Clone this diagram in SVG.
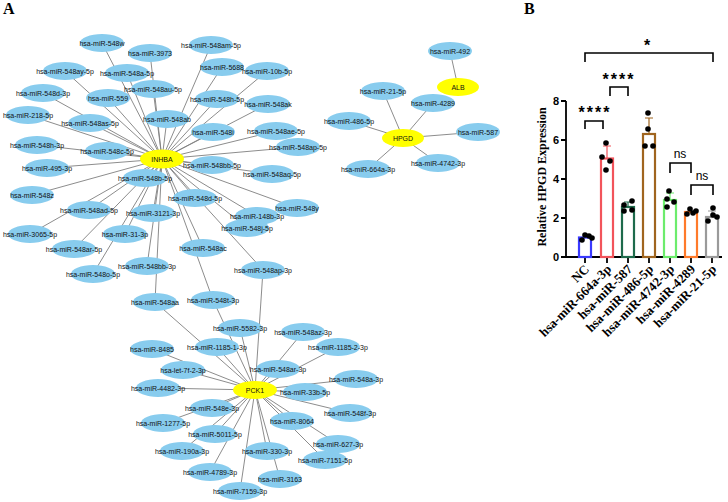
<svg xmlns="http://www.w3.org/2000/svg" width="728" height="502" viewBox="0 0 728 502">
<style>
.e{stroke:#7f7f7f;stroke-width:0.9;fill:none}
.m{fill:#88ccee}
.h{fill:#ffff00}
.t{font-family:"Liberation Sans",Arial,sans-serif;font-size:7px;fill:#111;text-anchor:middle}
.pl{font-family:"Liberation Serif","Times New Roman",serif;font-weight:bold;font-size:16px;fill:#000}
.ax{stroke:#000;stroke-width:1.8;fill:none}
.yl{font-family:"Liberation Sans",Arial,sans-serif;font-weight:bold;font-size:11px;text-anchor:end}
.xl{font-family:"Liberation Serif","Times New Roman",serif;font-weight:bold;font-size:13px;text-anchor:end}
.bar{fill:#fff;stroke-width:2.2}
.dot{fill:#000}
.br{stroke:#000;stroke-width:1.6;fill:none}
.st{font-family:"Liberation Sans",Arial,sans-serif;font-weight:bold;font-size:16px;text-anchor:middle;letter-spacing:2px}
.ns{font-family:"Liberation Sans",Arial,sans-serif;font-size:12px;text-anchor:middle}
</style>
<rect width="728" height="502" fill="#fff"/>
<text class="pl" x="3" y="14">A</text>
<text class="pl" x="524" y="14">B</text>

<g id="network" opacity="0.995">
<g id="edges">
<path class="e" d="M162 159L102 43M162 159L150 53M162 159L65 71M162 159L127 73M162 159L153 89M162 159L43 93M162 159L108 98M162 159L28 115M162 159L90 123M162 159L167 119M162 159L37 145M162 159L107 151M162 159L47 168M162 159L211 45M162 159L222 67M162 159L267 71M162 159L217 99M162 159L268 104M162 159L213 132M162 159L276 131M162 159L298 147M162 159L212 165M162 159L145 178M162 159L32 195M162 159L89 210M162 159L153 213M162 159L30 234M162 159L125 234M162 159L74 249M162 159L147 266M162 159L93 274M162 159L155 302M162 159L272 174M162 159L195 198M162 159L297 208M162 159L257 216M162 159L247 228M162 159L203 248M162 159L263 270M162 159L213 300"/>
<path class="e" d="M403 138L383 91M403 138L433 103M403 138L349 121M403 138L478 132M403 138L368 169M403 138L438 163M458 87L450 51"/>
<path class="e" d="M255 390L155 302M255 390L213 300M255 390L263 270M255 390L240 328M255 390L152 349M255 390L217 347M255 390L183 370M255 390L158 388M255 390L212 408M255 390L163 423M255 390L215 434M255 390L182 451M255 390L267 451M255 390L210 472M255 390L240 491M255 390L303 332M255 390L338 347M255 390L278 369M255 390L356 379M255 390L305 392M255 390L350 413M255 390L292 421M255 390L338 444M255 390L325 460M255 390L280 479"/>
</g>

<g id="n-548w"><ellipse class="m" cx="102" cy="43" rx="22" ry="9"/><text class="t" x="102" y="45.5">hsa-miR-548w</text></g>
<g id="n-3973"><ellipse class="m" cx="150" cy="53" rx="22" ry="9"/><text class="t" x="150" y="55.5">hsa-miR-3973</text></g>
<g id="n-548ay-5p"><ellipse class="m" cx="65" cy="71" rx="22" ry="9"/><text class="t" x="65" y="73.5">hsa-miR-548ay-5p</text></g>
<g id="n-548a-5p"><ellipse class="m" cx="127" cy="73" rx="22" ry="9"/><text class="t" x="127" y="75.5">hsa-miR-548a-5p</text></g>
<g id="n-548au-5p"><ellipse class="m" cx="153" cy="89" rx="22" ry="9"/><text class="t" x="153" y="91.5">hsa-miR-548au-5p</text></g>
<g id="n-548d-3p"><ellipse class="m" cx="43" cy="93" rx="22" ry="9"/><text class="t" x="43" y="95.5">hsa-miR-548d-3p</text></g>
<g id="n-559"><ellipse class="m" cx="108" cy="98" rx="22" ry="9"/><text class="t" x="108" y="100.5">hsa-miR-559</text></g>
<g id="n-218-5p"><ellipse class="m" cx="28" cy="115" rx="22" ry="9"/><text class="t" x="28" y="117.5">hsa-miR-218-5p</text></g>
<g id="n-548as-5p"><ellipse class="m" cx="90" cy="123" rx="22" ry="9"/><text class="t" x="90" y="125.5">hsa-miR-548as-5p</text></g>
<g id="n-548ab"><ellipse class="m" cx="167" cy="119" rx="22" ry="9"/><text class="t" x="167" y="121.5">hsa-miR-548ab</text></g>
<g id="n-548h-3p"><ellipse class="m" cx="37" cy="145" rx="22" ry="9"/><text class="t" x="37" y="147.5">hsa-miR-548h-3p</text></g>
<g id="n-548c-5p"><ellipse class="m" cx="107" cy="151" rx="22" ry="9"/><text class="t" x="107" y="153.5">hsa-miR-548c-5p</text></g>
<g id="n-495-3p"><ellipse class="m" cx="47" cy="168" rx="22" ry="9"/><text class="t" x="47" y="170.5">hsa-miR-495-3p</text></g>
<g id="n-548am-5p"><ellipse class="m" cx="211" cy="45" rx="22" ry="9"/><text class="t" x="211" y="47.5">hsa-miR-548am-5p</text></g>
<g id="n-5688"><ellipse class="m" cx="222" cy="67" rx="22" ry="9"/><text class="t" x="222" y="69.5">hsa-miR-5688</text></g>
<g id="n-10b-5p"><ellipse class="m" cx="267" cy="71" rx="22" ry="9"/><text class="t" x="267" y="73.5">hsa-miR-10b-5p</text></g>
<g id="n-548h-5p"><ellipse class="m" cx="217" cy="99" rx="22" ry="9"/><text class="t" x="217" y="101.5">hsa-miR-548h-5p</text></g>
<g id="n-548ak"><ellipse class="m" cx="268" cy="104" rx="22" ry="9"/><text class="t" x="268" y="106.5">hsa-miR-548ak</text></g>
<g id="n-548i"><ellipse class="m" cx="213" cy="132" rx="22" ry="9"/><text class="t" x="213" y="134.5">hsa-miR-548i</text></g>
<g id="n-548ae-5p"><ellipse class="m" cx="276" cy="131" rx="22" ry="9"/><text class="t" x="276" y="133.5">hsa-miR-548ae-5p</text></g>
<g id="n-548ap-5p"><ellipse class="m" cx="298" cy="147" rx="22" ry="9"/><text class="t" x="298" y="149.5">hsa-miR-548ap-5p</text></g>
<g id="n-548bb-5p"><ellipse class="m" cx="212" cy="165" rx="22" ry="9"/><text class="t" x="212" y="167.5">hsa-miR-548bb-5p</text></g>
<g id="n-548b-5p"><ellipse class="m" cx="145" cy="178" rx="22" ry="9"/><text class="t" x="145" y="180.5">hsa-miR-548b-5p</text></g>
<g id="n-548z"><ellipse class="m" cx="32" cy="195" rx="22" ry="9"/><text class="t" x="32" y="197.5">hsa-miR-548z</text></g>
<g id="n-548ad-5p"><ellipse class="m" cx="89" cy="210" rx="22" ry="9"/><text class="t" x="89" y="212.5">hsa-miR-548ad-5p</text></g>
<g id="n-3121-3p"><ellipse class="m" cx="153" cy="213" rx="22" ry="9"/><text class="t" x="153" y="215.5">hsa-miR-3121-3p</text></g>
<g id="n-3065-5p"><ellipse class="m" cx="30" cy="234" rx="22" ry="9"/><text class="t" x="30" y="236.5">hsa-miR-3065-5p</text></g>
<g id="n-31-3p"><ellipse class="m" cx="125" cy="234" rx="22" ry="9"/><text class="t" x="125" y="236.5">hsa-miR-31-3p</text></g>
<g id="n-548ar-5p"><ellipse class="m" cx="74" cy="249" rx="22" ry="9"/><text class="t" x="74" y="251.5">hsa-miR-548ar-5p</text></g>
<g id="n-548bb-3p"><ellipse class="m" cx="147" cy="266" rx="22" ry="9"/><text class="t" x="147" y="268.5">hsa-miR-548bb-3p</text></g>
<g id="n-548o-5p"><ellipse class="m" cx="93" cy="274" rx="22" ry="9"/><text class="t" x="93" y="276.5">hsa-miR-548o-5p</text></g>
<g id="n-548aa"><ellipse class="m" cx="155" cy="302" rx="22" ry="9"/><text class="t" x="155" y="304.5">hsa-miR-548aa</text></g>
<g id="n-548aq-5p"><ellipse class="m" cx="272" cy="174" rx="22" ry="9"/><text class="t" x="272" y="176.5">hsa-miR-548aq-5p</text></g>
<g id="n-548d-5p"><ellipse class="m" cx="195" cy="198" rx="22" ry="9"/><text class="t" x="195" y="200.5">hsa-miR-548d-5p</text></g>
<g id="n-548y"><ellipse class="m" cx="297" cy="208" rx="22" ry="9"/><text class="t" x="297" y="210.5">hsa-miR-548y</text></g>
<g id="n-148b-3p"><ellipse class="m" cx="257" cy="216" rx="22" ry="9"/><text class="t" x="257" y="218.5">hsa-miR-148b-3p</text></g>
<g id="n-548j-5p"><ellipse class="m" cx="247" cy="228" rx="22" ry="9"/><text class="t" x="247" y="230.5">hsa-miR-548j-5p</text></g>
<g id="n-548ac"><ellipse class="m" cx="203" cy="248" rx="22" ry="9"/><text class="t" x="203" y="250.5">hsa-miR-548ac</text></g>
<g id="n-548ap-3p"><ellipse class="m" cx="263" cy="270" rx="22" ry="9"/><text class="t" x="263" y="272.5">hsa-miR-548ap-3p</text></g>
<g id="n-548t-3p"><ellipse class="m" cx="213" cy="300" rx="22" ry="9"/><text class="t" x="213" y="302.5">hsa-miR-548t-3p</text></g>

<g id="n-492"><ellipse class="m" cx="450" cy="51" rx="22" ry="9"/><text class="t" x="450" y="53.5">hsa-miR-492</text></g>
<g id="n-21-5p"><ellipse class="m" cx="383" cy="91" rx="22" ry="9"/><text class="t" x="383" y="93.5">hsa-miR-21-5p</text></g>
<g id="n-4289"><ellipse class="m" cx="433" cy="103" rx="22" ry="9"/><text class="t" x="433" y="105.5">hsa-miR-4289</text></g>
<g id="n-486-5p"><ellipse class="m" cx="349" cy="121" rx="22" ry="9"/><text class="t" x="349" y="123.5">hsa-miR-486-5p</text></g>
<g id="n-587"><ellipse class="m" cx="478" cy="132" rx="22" ry="9"/><text class="t" x="478" y="134.5">hsa-miR-587</text></g>
<g id="n-664a-3p"><ellipse class="m" cx="368" cy="169" rx="22" ry="9"/><text class="t" x="368" y="171.5">hsa-miR-664a-3p</text></g>
<g id="n-4742-3p"><ellipse class="m" cx="438" cy="163" rx="22" ry="9"/><text class="t" x="438" y="165.5">hsa-miR-4742-3p</text></g>

<g id="n-5582-3p"><ellipse class="m" cx="240" cy="328" rx="22" ry="9"/><text class="t" x="240" y="330.5">hsa-miR-5582-3p</text></g>
<g id="n-8485"><ellipse class="m" cx="152" cy="349" rx="22" ry="9"/><text class="t" x="152" y="351.5">hsa-miR-8485</text></g>
<g id="n-1185-1-3p"><ellipse class="m" cx="217" cy="347" rx="22" ry="9"/><text class="t" x="217" y="349.5">hsa-miR-1185-1-3p</text></g>
<g id="n-let-7f-2-3p"><ellipse class="m" cx="183" cy="370" rx="22" ry="9"/><text class="t" x="183" y="372.5">hsa-let-7f-2-3p</text></g>
<g id="n-4482-3p"><ellipse class="m" cx="158" cy="388" rx="22" ry="9"/><text class="t" x="158" y="390.5">hsa-miR-4482-3p</text></g>
<g id="n-548e-3p"><ellipse class="m" cx="212" cy="408" rx="22" ry="9"/><text class="t" x="212" y="410.5">hsa-miR-548e-3p</text></g>
<g id="n-1277-5p"><ellipse class="m" cx="163" cy="423" rx="22" ry="9"/><text class="t" x="163" y="425.5">hsa-miR-1277-5p</text></g>
<g id="n-5011-5p"><ellipse class="m" cx="215" cy="434" rx="22" ry="9"/><text class="t" x="215" y="436.5">hsa-miR-5011-5p</text></g>
<g id="n-190a-3p"><ellipse class="m" cx="182" cy="451" rx="22" ry="9"/><text class="t" x="182" y="453.5">hsa-miR-190a-3p</text></g>
<g id="n-330-3p"><ellipse class="m" cx="267" cy="451" rx="22" ry="9"/><text class="t" x="267" y="453.5">hsa-miR-330-3p</text></g>
<g id="n-4789-3p"><ellipse class="m" cx="210" cy="472" rx="22" ry="9"/><text class="t" x="210" y="474.5">hsa-miR-4789-3p</text></g>
<g id="n-7159-3p"><ellipse class="m" cx="240" cy="491" rx="22" ry="9"/><text class="t" x="240" y="493.5">hsa-miR-7159-3p</text></g>
<g id="n-548az-3p"><ellipse class="m" cx="303" cy="332" rx="22" ry="9"/><text class="t" x="303" y="334.5">hsa-miR-548az-3p</text></g>
<g id="n-1185-2-3p"><ellipse class="m" cx="338" cy="347" rx="22" ry="9"/><text class="t" x="338" y="349.5">hsa-miR-1185-2-3p</text></g>
<g id="n-548ar-3p"><ellipse class="m" cx="278" cy="369" rx="22" ry="9"/><text class="t" x="278" y="371.5">hsa-miR-548ar-3p</text></g>
<g id="n-548a-3p"><ellipse class="m" cx="356" cy="379" rx="22" ry="9"/><text class="t" x="356" y="381.5">hsa-miR-548a-3p</text></g>
<g id="n-33b-5p"><ellipse class="m" cx="305" cy="392" rx="22" ry="9"/><text class="t" x="305" y="394.5">hsa-miR-33b-5p</text></g>
<g id="n-548f-3p"><ellipse class="m" cx="350" cy="413" rx="22" ry="9"/><text class="t" x="350" y="415.5">hsa-miR-548f-3p</text></g>
<g id="n-8064"><ellipse class="m" cx="292" cy="421" rx="22" ry="9"/><text class="t" x="292" y="423.5">hsa-miR-8064</text></g>
<g id="n-627-3p"><ellipse class="m" cx="338" cy="444" rx="22" ry="9"/><text class="t" x="338" y="446.5">hsa-miR-627-3p</text></g>
<g id="n-7151-5p"><ellipse class="m" cx="325" cy="460" rx="22" ry="9"/><text class="t" x="325" y="462.5">hsa-miR-7151-5p</text></g>
<g id="n-3163"><ellipse class="m" cx="280" cy="479" rx="22" ry="9"/><text class="t" x="280" y="481.5">hsa-miR-3163</text></g>

<g id="n-INHBA"><ellipse class="h" cx="162" cy="159" rx="22" ry="9.5"/><text class="t" x="162" y="161.5">INHBA</text></g>
<g id="n-HPGD"><ellipse class="h" cx="403" cy="138" rx="21" ry="9"/><text class="t" x="403" y="140.5">HPGD</text></g>
<g id="n-ALB"><ellipse class="h" cx="458" cy="87" rx="21" ry="9"/><text class="t" x="458" y="89.5">ALB</text></g>
<g id="n-PCK1"><ellipse class="h" cx="255" cy="390" rx="22" ry="9"/><text class="t" x="255" y="392.5">PCK1</text></g>
</g>

<g id="chart">
<text font-family="Liberation Serif,Times New Roman,serif" font-weight="bold" font-size="12" text-anchor="middle" transform="translate(546 177) rotate(-90)">Relative HPGD Expression</text>
<path class="ax" d="M566 101V257H722M561 101H566M561 140H566M561 179H566M561 218H566M561 257H566M585 257V263M607 257V263M628 257V263M649 257V263M670 257V263M691 257V263M712 257V263"/>
<text class="yl" x="559" y="105">8</text>
<text class="yl" x="559" y="144">6</text>
<text class="yl" x="559" y="183">4</text>
<text class="yl" x="559" y="222">2</text>
<text class="yl" x="559" y="261">0</text>

<rect class="bar" x="579" y="237.5" width="12" height="19.5" stroke="#3a3aff"/>
<rect class="bar" x="601" y="158.5" width="12" height="98.5" stroke="#f2545b"/>
<rect class="bar" x="622" y="207" width="12" height="50" stroke="#1e6b4c"/>
<rect class="bar" x="643" y="134" width="12" height="123" stroke="#a0651f"/>
<rect class="bar" x="664" y="200" width="12" height="57" stroke="#6cec6c"/>
<rect class="bar" x="685" y="212" width="12" height="45" stroke="#ff7a2a"/>
<rect class="bar" x="706" y="217" width="12" height="40" stroke="#9a9a9a"/>

<path stroke="#f2545b" stroke-width="1.2" d="M607 158V146M603 146H611"/>
<path stroke="#a0651f" stroke-width="1.2" d="M649 134V118M645 118H653"/>
<path stroke="#1e6b4c" stroke-width="1.2" d="M628 207V202M624 202H632"/>
<path stroke="#6cec6c" stroke-width="1.2" d="M670 200V193M666 193H674"/>
<path stroke="#9a9a9a" stroke-width="1.2" d="M712 217V211M708 211H716"/>

<g class="dot">
<circle cx="582" cy="240" r="2.8"/><circle cx="585" cy="235" r="2.8"/><circle cx="589" cy="236" r="2.8"/><circle cx="592" cy="238" r="2.8"/>
<circle cx="606" cy="143" r="2.8"/><circle cx="602" cy="157" r="2.8"/><circle cx="610" cy="161" r="2.8"/><circle cx="606" cy="170" r="2.8"/>
<circle cx="624" cy="205" r="2.8"/><circle cx="632" cy="201" r="2.8"/><circle cx="624" cy="211" r="2.8"/><circle cx="632" cy="210" r="2.8"/>
<circle cx="648" cy="113" r="2.8"/><circle cx="648" cy="129" r="2.8"/><circle cx="645" cy="146" r="2.8"/><circle cx="653" cy="146" r="2.8"/>
<circle cx="669" cy="191" r="2.8"/><circle cx="667" cy="199" r="2.8"/><circle cx="674" cy="202" r="2.8"/><circle cx="667" cy="207" r="2.8"/>
<circle cx="690" cy="209" r="2.8"/><circle cx="687" cy="214" r="2.8"/><circle cx="693" cy="213" r="2.8"/><circle cx="696" cy="211" r="2.8"/>
<circle cx="713" cy="208" r="2.8"/><circle cx="708" cy="221" r="2.8"/><circle cx="717" cy="217" r="2.8"/><circle cx="713" cy="215" r="2.8"/>
</g>

<path class="br" d="M585 62V53H713V62M610 96V87H628V96M585 129V121H603V129M670 173V163H691V173M691 195V185H713V195"/>
<text class="st" x="648" y="51">*</text>
<text class="st" x="619" y="85">****</text>
<text class="st" x="595" y="118">****</text>
<text class="ns" x="680" y="158">ns</text>
<text class="ns" x="702" y="180">ns</text>

<text class="xl" transform="translate(590 270) rotate(-45)">NC</text>
<text class="xl" transform="translate(612 270) rotate(-45)">hsa-miR-664a-3p</text>
<text class="xl" transform="translate(633 270) rotate(-45)">hsa-miR-587</text>
<text class="xl" transform="translate(654 270) rotate(-45)">hsa-miR-486-5p</text>
<text class="xl" transform="translate(675 270) rotate(-45)">hsa-miR-4742-3p</text>
<text class="xl" transform="translate(696 270) rotate(-45)">hsa-miR-4289</text>
<text class="xl" transform="translate(717 270) rotate(-45)">hsa-miR-21-5p</text>
</g>
</svg>
